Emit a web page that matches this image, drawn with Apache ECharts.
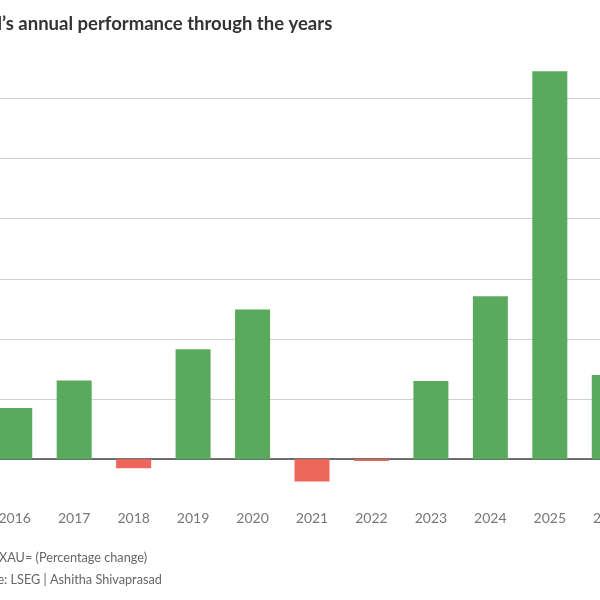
<!DOCTYPE html>
<html>
<head>
<meta charset="utf-8">
<script src="https://cdn.jsdelivr.net/npm/echarts@6/dist/echarts.min.js"></script>
<style>
html,body{margin:0;padding:0;background:#fff;overflow:hidden;width:600px;height:600px;}
#c{position:absolute;left:-15px;top:0;width:654px;height:600px;}
</style>
</head>
<body>
<div id="c"></div>
<script>
const years = ['2016','2017','2018','2019','2020','2021','2022','2023','2024','2025','2026'];
const changes = [8.5, 13.1, -1.5, 18.3, 24.9, -3.7, -0.3, 13.0, 27.1, 64.5, 14.0];
const titleText = "Gold\u2019s annual performance through the years";
const noteText = "XAU= (Percentage change)";
const sourceText = "Source: LSEG | Ashitha Shivaprasad";

const chart = echarts.init(document.getElementById('c'), null, {renderer: 'canvas'});
chart.setOption({
  animation: false,
  backgroundColor: '#fff',
  grid: {left: 0, right: 0, top: 38.3, bottom: 80.7, containLabel: false},
  xAxis: {
    type: 'category',
    data: years,
    axisLine: {onZero: true, lineStyle: {color: '#444', width: 1.5}},
    axisTick: {show: false},
    axisLabel: {color: '#777', fontSize: 14, fontFamily: 'Lato', margin: -8}
  },
  yAxis: {
    type: 'value',
    min: -10, max: 70, interval: 10,
    axisLabel: {show: false},
    axisLine: {show: false},
    axisTick: {show: false},
    splitLine: {show: true, showMinLine: false, showMaxLine: false, lineStyle: {color: '#cfcfcf', width: 1}}
  },
  series: [{
    type: 'bar',
    data: changes.map(v => ({value: v, itemStyle: {color: v >= 0 ? '#5aaa5e' : '#ef665b'}})),
    barWidth: 35
  }],
  graphic: [
    {type: 'text', left: -22, top: 15, style: {text: titleText, fontFamily: 'Lato', fontWeight: 'bold', fontSize: 18.5, fill: '#333'}},
    {type: 'text', left: 14, top: 551, style: {text: noteText, fontFamily: 'Lato', fontSize: 12.7, fill: '#666'}},
    {type: 'text', left: -19, top: 573, style: {text: sourceText, fontFamily: 'Lato', fontSize: 12.7, fill: '#666'}}
  ]
});
</script>
</body>
</html>
